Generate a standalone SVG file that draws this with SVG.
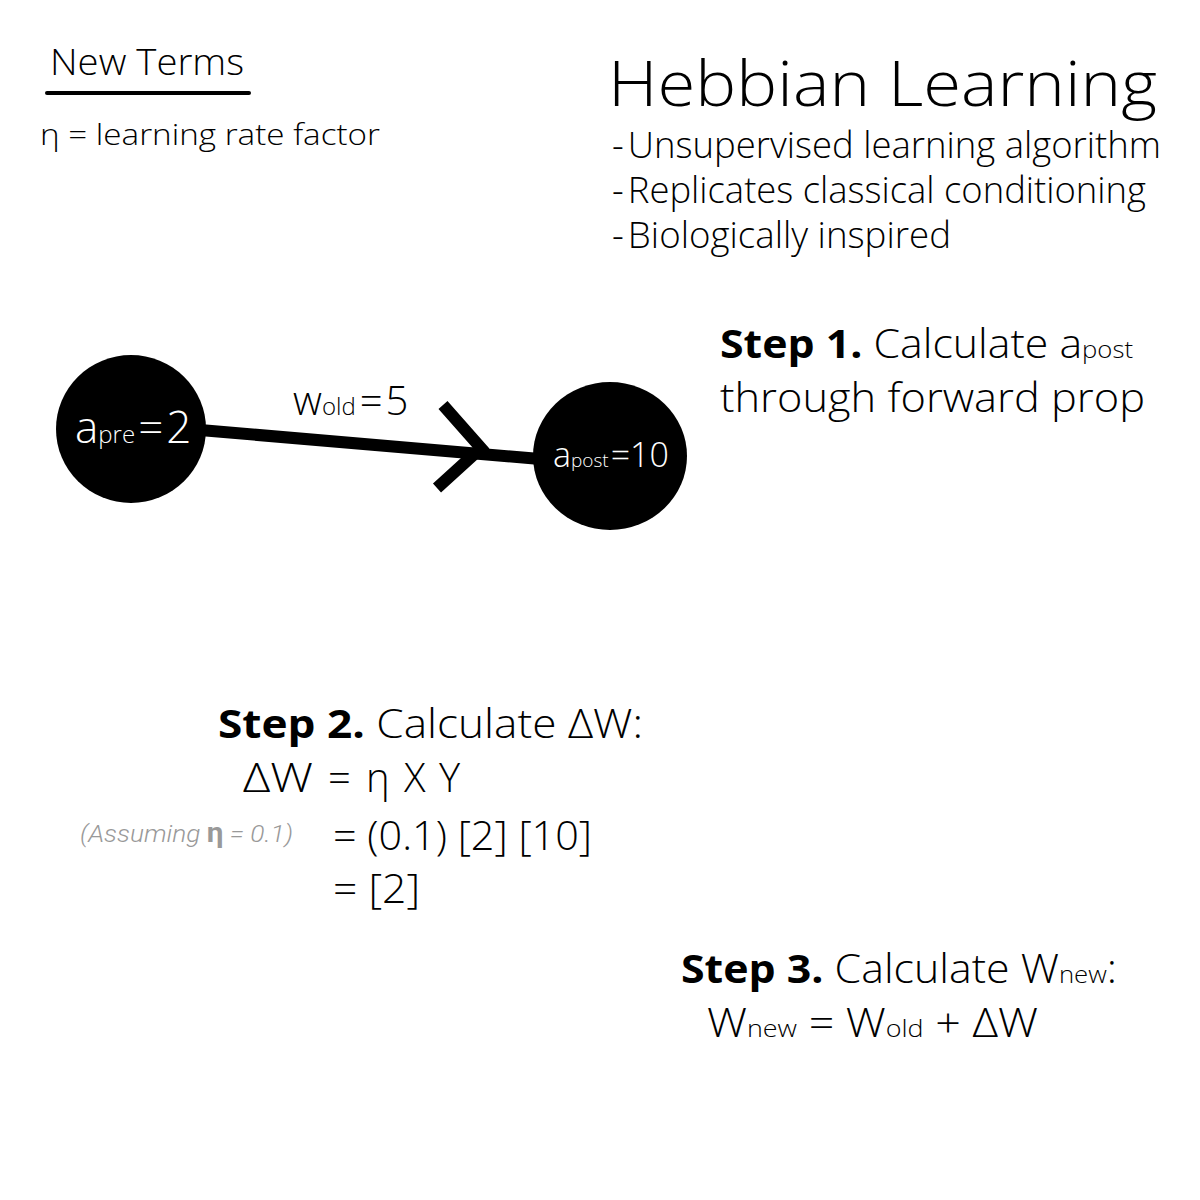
<svg xmlns="http://www.w3.org/2000/svg" width="1200" height="1200" viewBox="0 0 1200 1200">
<style>
text{font-family:"Open Sans","Noto Sans","DejaVu Sans",sans-serif;font-weight:300;fill:#000}
.b{font-weight:700}
.w{fill:#fff}
.g{fill:#999;font-style:italic;font-family:Roboto,"Open Sans",sans-serif;font-weight:300}
.edge{stroke:#000;stroke-width:12;fill:none}
.node{fill:#000}
</style>
<rect width="1200" height="1200" fill="#fff"/>
<g id="terms">
<text x="50" y="75" font-size="36" textLength="194" lengthAdjust="spacingAndGlyphs">New Terms</text>
<line x1="47" y1="93" x2="249" y2="93" stroke="#000" stroke-width="4" stroke-linecap="round"/>
<text x="40" y="145" font-size="30" textLength="340" lengthAdjust="spacingAndGlyphs">η = learning rate factor</text>
</g>
<g id="title">
<text x="608" y="106" font-size="62" textLength="549" lengthAdjust="spacingAndGlyphs">Hebbian Learning</text>
<text x="612" y="158" font-size="36" textLength="549" lengthAdjust="spacingAndGlyphs">-<tspan dx="4">Unsupervised learning algorithm</tspan></text>
<text x="612" y="203" font-size="36" textLength="534" lengthAdjust="spacingAndGlyphs">-<tspan dx="4">Replicates classical conditioning</tspan></text>
<text x="612" y="248" font-size="36" textLength="339" lengthAdjust="spacingAndGlyphs">-<tspan dx="4">Biologically inspired</tspan></text>
</g>
<g id="connectors">
<line class="edge" x1="200" y1="430" x2="540" y2="459"/>
<polyline class="edge" points="443,405 481,448 437,488" stroke-width="11"/>
<text x="293" y="415" font-size="40">w<tspan font-size="24">old</tspan><tspan dx="4">=</tspan><tspan dx="3">5</tspan></text>
</g>
<g id="node-pre">
<ellipse class="node" cx="131" cy="429" rx="75" ry="74"/>
<text class="w" x="75" y="443" font-size="44">a<tspan font-size="24">pre</tspan><tspan dx="3">=</tspan><tspan dx="3">2</tspan></text>
</g>
<g id="node-post">
<ellipse class="node" cx="610" cy="456" rx="77" ry="74"/>
<text class="w" x="553" y="467" font-size="34">a<tspan font-size="19">post</tspan><tspan dx="2">=10</tspan></text>
</g>
<g id="step1">
<text x="720" y="358" font-size="40" textLength="413" lengthAdjust="spacingAndGlyphs"><tspan class="b">Step 1.</tspan> Calculate a<tspan font-size="24">post</tspan></text>
<text x="720" y="412" font-size="40" textLength="425" lengthAdjust="spacingAndGlyphs">through forward prop</text>
</g>
<g id="step2">
<text x="218" y="738" font-size="40" textLength="425" lengthAdjust="spacingAndGlyphs"><tspan class="b">Step 2.</tspan> Calculate ΔW:</text>
<text x="243" y="792" font-size="40" textLength="70" lengthAdjust="spacingAndGlyphs">ΔW</text>
<text x="328" y="792" font-size="40">=</text>
<text x="366" y="792" font-size="40">η</text>
<text x="404" y="792" font-size="40">X</text>
<text x="439" y="792" font-size="40">Y</text>
<text class="g" x="80" y="842" font-size="24" textLength="213" lengthAdjust="spacingAndGlyphs">(Assuming <tspan font-style="normal" font-weight="700" font-size="27">η</tspan> = 0.1)</text>
<text x="333" y="850" font-size="40" textLength="259" lengthAdjust="spacingAndGlyphs">=  (0.1) [2] [10]</text>
<text x="333" y="903" font-size="40" textLength="87" lengthAdjust="spacingAndGlyphs">=  [2]</text>
</g>
<g id="step3">
<text x="681" y="983" font-size="40" textLength="436" lengthAdjust="spacingAndGlyphs"><tspan class="b">Step 3.</tspan> Calculate W<tspan font-size="24">new</tspan>:</text>
<text x="707" y="1037" font-size="40" textLength="331" lengthAdjust="spacingAndGlyphs">W<tspan font-size="24">new</tspan>  =  W<tspan font-size="24">old</tspan>  +  ΔW</text>
</g>
</svg>
